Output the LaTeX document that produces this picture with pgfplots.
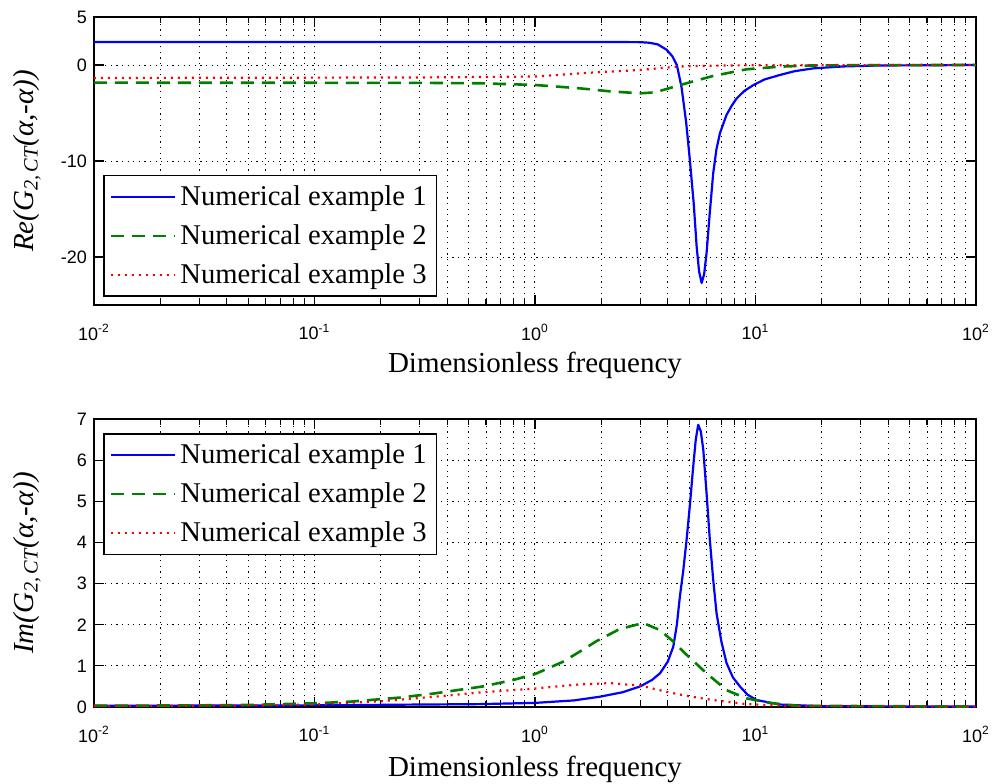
\documentclass[border=0pt]{standalone}
\usepackage{fontspec}
\setmainfont{Liberation Serif}
\newfontfamily\arial{Liberation Sans}
\usepackage{pgfplots}
\usepackage{pgfplotstable}
\pgfplotsset{compat=1.18}
\definecolor{mblue}{rgb}{0,0,1}
\definecolor{mgreen}{rgb}{0,0.5,0}
\definecolor{mred}{rgb}{1,0,0}

\pgfplotsset{
  scale only axis, width=441pt, height=144pt,
  tick align=inside,
  major tick length=5pt, minor tick length=3pt,
  grid style={black, line width=0.5pt, dash pattern=on 0.6pt off 2.2pt},
  axis line style={line width=0.8pt},
  every tick/.style={black, line width=0.6pt},
  tick label style={font=\arial\fontsize{9}{10}\selectfont},
  xticklabel style={yshift=-6pt},
  /pgf/number format/assume math mode=true,
  label style={font=\fontsize{14.5}{17}\selectfont},
  legend cell align=left,
  legend style={draw=black, line width=0.8pt, fill=white, font=\fontsize{14.3}{17}\selectfont, inner sep=3pt, row sep=4pt},
  legend image code/.code={\draw[#1] (0pt,0pt) -- (32pt,0pt);},
  ex1/.style={mblue, line width=1.1pt, line join=round},
  ex2/.style={mgreen, line width=1.3pt, dash pattern=on 6.5pt off 4pt, line join=round},
  ex3/.style={mred, line width=1.1pt, dash pattern=on 1pt off 2.5pt, line join=round},
}

\pgfplotstableread{
x y
0.01 2.4
0.3 2.4
1 2.4
2 2.4
3 2.38
3.3 2.32
3.6 2.15
3.95 1.6
4.2 0.9
4.4 0.0
4.62 -2.3
4.85 -6
5.04 -9.9
5.25 -14.5
5.41 -18.9
5.55 -21.5
5.70 -22.7
5.85 -21.8
6.0 -19.6
6.2 -15.5
6.43 -11.3
6.65 -8.8
6.90 -7.1
7.39 -5.2
7.8 -4.25
8.2 -3.5
8.9 -2.7
9.77 -2.1
11 -1.5
12.9 -1.04
15 -0.65
18.3 -0.35
25 -0.15
36.6 -0.05
100 0
}\reA
\pgfplotstableread{
x y
0.01 -1.84
0.3 -1.86
0.56 -1.9
1 -2.08
1.6 -2.43
2.2 -2.75
3.0 -2.95
3.5 -2.85
3.95 -2.5
4.87 -1.9
6.4 -1.15
9.1 -0.45
12.9 -0.17
18 -0.05
30 -0.01
100 0
}\reB
\pgfplotstableread{
x y
0.01 -1.35
0.3 -1.3
1 -1.2
1.9 -0.76
3 -0.52
4.4 -0.17
6.4 -0.07
10 -0.02
100 0
}\reC
\pgfplotstableread{
x y
0.01 0.03
0.1 0.04
0.3 0.06
0.56 0.07
1 0.1
1.5 0.16
1.97 0.25
2.5 0.36
3.0 0.5
3.4 0.66
3.69 0.82
4.0 1.1
4.24 1.47
4.4 2.0
4.54 2.68
4.7 3.3
4.87 4.06
5.05 4.95
5.22 5.85
5.36 6.5
5.5 6.86
5.65 6.7
5.8 6.25
6.0 5.2
6.21 4.06
6.43 3.1
6.66 2.28
7.0 1.6
7.39 1.07
7.9 0.72
8.5 0.5
9.2 0.3
10.1 0.17
12.9 0.06
20 0.02
100 0.01
}\imA
\pgfplotstableread{
x y
0.01 0.03
0.03 0.04
0.05 0.05
0.1 0.09
0.145 0.13
0.245 0.23
0.35 0.33
0.58 0.5
0.80 0.66
1.0 0.8
1.34 1.1
1.6 1.35
1.9 1.6
2.43 1.9
3.1 2.04
3.69 1.87
4.24 1.59
4.87 1.27
6.0 0.82
7.39 0.41
9.1 0.21
11.6 0.1
15.4 0.03
100 0.01
}\imB
\pgfplotstableread{
x y
0.01 0.02
0.05 0.04
0.1 0.06
0.2 0.14
0.35 0.25
0.58 0.36
1.0 0.45
1.6 0.55
2.19 0.58
3.0 0.52
3.95 0.37
4.87 0.27
6.4 0.17
9.1 0.07
15 0.02
100 0.01
}\imC

\begin{document}
\begin{tikzpicture}
\useasboundingbox (-47pt,-239pt) rectangle (449pt,152.5pt);
\begin{axis}[at={(0pt,0pt)}, anchor=south west,
  xmode=log, xmin=0.01, xmax=100, grid=both,
  xtick={0.01,0.1,1,10,100},
  xticklabels={10\textsuperscript{-2},10\textsuperscript{-1},10\textsuperscript{0},10\textsuperscript{1},10\textsuperscript{2}},
  xlabel={Dimensionless frequency},
  xlabel style={at={(axis description cs:0.5,0)}, anchor=center, yshift=-30pt},
  ylabel style={at={(axis description cs:-0.076,0.5)}, anchor=center},
  ymin=-25, ymax=5, ytick={-20,-10,0,5}, yticklabels={-20,-10,0,5},
  ylabel={\itshape Re(G\textsubscript{2,\,CT}(α,-α))},
  legend style={at={(0.0102,0.0278)}, anchor=south west}]
\addplot[ex1] table {\reA};
\addplot[ex2] table {\reB};
\addplot[ex3] table {\reC};
\legend{Numerical example 1, Numerical example 2, Numerical example 3}
\end{axis}
\begin{axis}[at={(0pt,-201pt)}, anchor=south west,
  xmode=log, xmin=0.01, xmax=100, grid=both,
  xtick={0.01,0.1,1,10,100},
  xticklabels={10\textsuperscript{-2},10\textsuperscript{-1},10\textsuperscript{0},10\textsuperscript{1},10\textsuperscript{2}},
  xlabel={Dimensionless frequency},
  xlabel style={at={(axis description cs:0.5,0)}, anchor=center, yshift=-31pt},
  ylabel style={at={(axis description cs:-0.076,0.5)}, anchor=center},
  ymin=0, ymax=7, ytick={0,1,2,3,4,5,6,7},
  ylabel={\itshape Im(G\textsubscript{2,\,CT}(α,-α))},
  legend style={at={(0.0102,0.951)}, anchor=north west}]
\addplot[ex1] table {\imA};
\addplot[ex2] table {\imB};
\addplot[ex3] table {\imC};
\legend{Numerical example 1, Numerical example 2, Numerical example 3}
\end{axis}
\end{tikzpicture}
\end{document}
